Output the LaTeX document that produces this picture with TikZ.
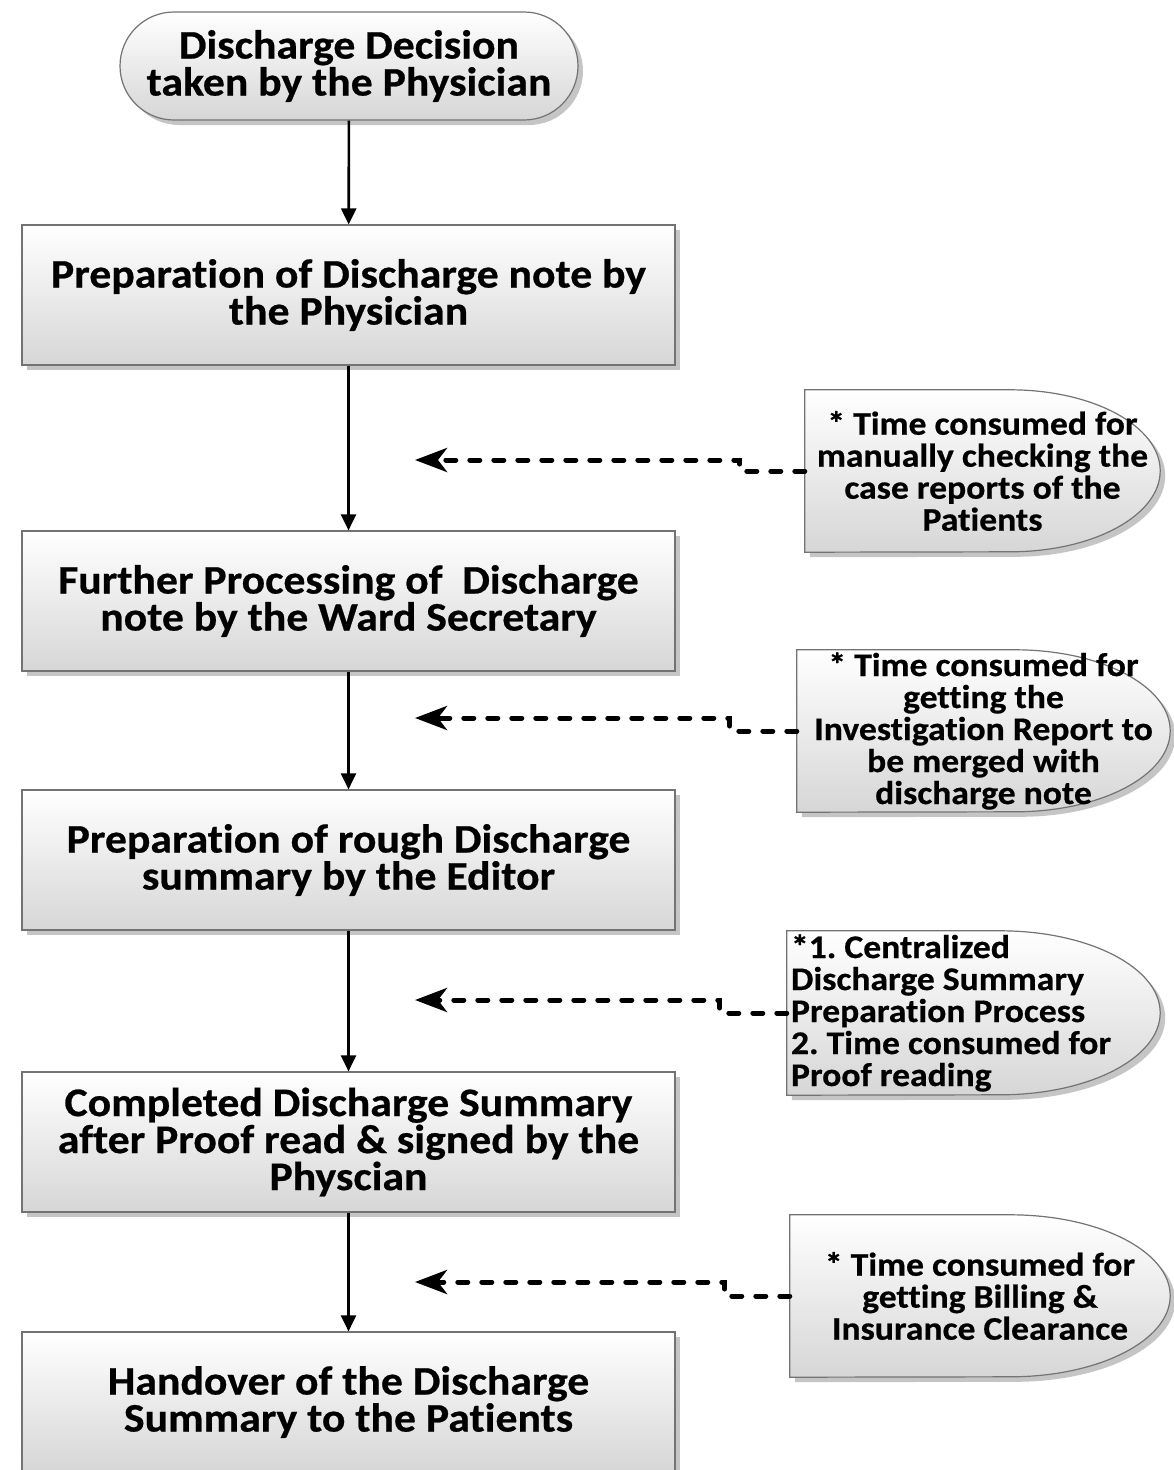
\documentclass[tikz,border=0pt]{standalone}
\usepackage{fontspec}
\setmainfont{Carlito}[FakeStretch=1.08, Ligatures=NoCommon, BoldFeatures={FakeBold=0.6}]
\usetikzlibrary{arrows.meta,shadows,backgrounds,shapes.misc}

\tikzset{
  boxfont/.style={font=\fontsize{40.5}{37}\selectfont\bfseries},
  notefont/.style={font=\fontsize{33}{32}\selectfont\bfseries\frenchspacing},
  shadefill/.style={top color=white, bottom color=black!16, draw=black!55, line width=1.2pt,
    drop shadow={shadow xshift=5pt, shadow yshift=-5pt, fill=black!45, opacity=0.5}},
  terminal/.style={rounded rectangle, shadefill, boxfont, align=center,
    minimum width=458pt, minimum height=108pt, inner sep=0pt},
  procbox/.style={rectangle, shadefill, boxfont, align=center,
    minimum width=653pt, minimum height=140pt, inner sep=0pt},
  notebox/.style={rectangle, notefont, inner sep=0pt},
  delayoutline/.style={shadefill},
  flow/.style={draw=black, line width=2.6pt, -{Triangle[length=16pt,width=15pt]}},
  dasharrow/.style={draw=black, line width=5pt, line cap=round, dash pattern=on 10pt off 14pt,
    -{Stealth[length=32pt,width=24pt,inset=9pt,line cap=butt]}}
}

% delay-shaped outline around a note node: flat left part, half ellipse on the right
\newcommand{\delayshape}[3]{%
  \path[delayoutline] (#1.north west) -- ([xshift=-#2]#1.north east)
    arc[start angle=90, end angle=-90, x radius=#2, y radius=#3]
    -- (#1.south west) -- cycle;}

\begin{document}
\begin{tikzpicture}[x=1pt, y=-1pt]
\useasboundingbox (0,0) rectangle (1174,1470);
\clip (0,0) rectangle (1174,1470);

% main flow
\node[terminal] (start) at (349,66) {Discharge Decision\\taken by the Physician};
\node[procbox] (p1) at (348.5,295) {Preparation of Discharge note by\\the Physician};
\node[procbox] (p2) at (348.5,601) {Further Processing of~ Discharge\\note by the Ward Secretary};
\node[procbox] (p3) at (348.5,860) {Preparation of rough Discharge\\summary by the Editor};
\node[procbox] (p4) at (348.5,1142) {Completed Discharge Summary\\after Proof read \& signed by the\\Physcian};
\node[procbox] (p5) at (348.5,1402) {Handover of the Discharge\\Summary to the Patients};

\draw[flow] (start) -- (p1);
\draw[flow] (p1) -- (p2);
\draw[flow] (p2) -- (p3);
\draw[flow] (p3) -- (p4);
\draw[flow] (p4) -- (p5);

% notes on time consumed
\node[notebox, minimum width=355pt, minimum height=162pt, align=center] (n1) at (982.5,471)
  {* Time consumed for\\manually checking the\\case reports of the\\Patients};
\node[notebox, minimum width=373pt, minimum height=162pt, align=center] (n2) at (983.5,731)
  {* Time consumed for\\getting the\\Investigation Report to\\be merged with\\discharge note};
\node[notebox, minimum width=373pt, minimum height=164pt, text width=365pt, align=flush left] (n3) at (973.5,1013)
  {*1. Centralized\\Discharge Summary\\Preparation Process\\2. Time consumed for\\Proof reading};
\node[notebox, minimum width=380pt, minimum height=162pt, align=center] (n4) at (980,1296)
  {* Time consumed for\\getting Billing \&\\Insurance Clearance};

\begin{pgfonlayer}{background}
  \delayshape{n1}{150pt}{81pt}
  \delayshape{n2}{155pt}{81pt}
  \delayshape{n3}{160pt}{82pt}
  \delayshape{n4}{160pt}{81pt}
\end{pgfonlayer}

\coordinate (t1) at (415,460);
\coordinate (t2) at (415,718);
\coordinate (t3) at (415,1000);
\coordinate (t4) at (415,1282);

\draw[dasharrow] (n1.west) -- ++(-65,0) |- (t1);
\draw[dasharrow] (n2.west) -- ++(-67,0) |- (t2);
\draw[dasharrow] (n3.west) -- ++(-67,0) |- (t3);
\draw[dasharrow] (n4.west) -- ++(-65,0) |- (t4);
\end{tikzpicture}
\end{document}
